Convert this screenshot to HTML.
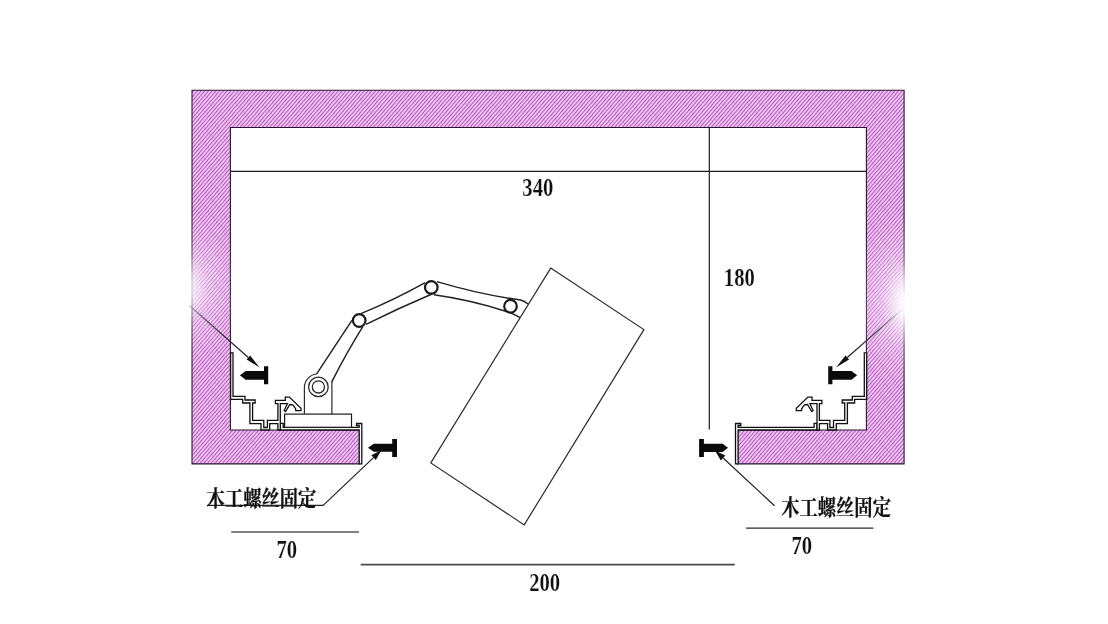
<!DOCTYPE html>
<html lang="zh-CN">
<head>
<meta charset="utf-8">
<title>木工螺丝固定 安装示意图</title>
<style>
html,body{margin:0;padding:0;background:#ffffff;}
body{width:1108px;height:624px;overflow:hidden;}
svg{display:block;}
.num{font-family:"Liberation Serif","Noto Serif CJK SC",serif;font-weight:bold;fill:#111;}
.cjk{font-family:"Liberation Serif","Noto Serif CJK SC",serif;font-weight:bold;fill:#111;}
</style>
</head>
<body>
<svg width="1108" height="624" viewBox="0 0 1108 624">
<defs>
<pattern id="hatch" patternUnits="userSpaceOnUse" x="0" y="0" width="12" height="2.8" patternTransform="rotate(-49)">
<rect x="0" y="0" width="12" height="2.8" fill="#fdc3fd"/>
<rect x="0" y="0.9" width="12" height="1.05" fill="#a260ad"/>
</pattern>
<filter id="soft" x="-2%" y="-2%" width="104%" height="104%"><feGaussianBlur stdDeviation="0.45"/></filter>
<radialGradient id="glow" cx="0.5" cy="0.5" r="0.5">
<stop offset="0" stop-color="#ffffff" stop-opacity="1"/>
<stop offset="0.2" stop-color="#ffffff" stop-opacity="0.95"/>
<stop offset="0.45" stop-color="#ffffff" stop-opacity="0.62"/>
<stop offset="0.7" stop-color="#ffffff" stop-opacity="0.27"/>
<stop offset="1" stop-color="#ffffff" stop-opacity="0"/>
</radialGradient>
</defs>
<rect x="0" y="0" width="1108" height="624" fill="#ffffff"/>

<clipPath id="wallclip"><path d="M192.0,90.2 H904.1 V463.9 H737.6 V430.0 H866.4 V127.5 H230.4 V430.0 H359.6 V463.9 H192.0 Z"/></clipPath>
<g clip-path="url(#wallclip)"><rect x="186.0" y="84.2" width="724.1" height="385.7" fill="url(#hatch)" filter="url(#soft)"/></g>
<path d="M192.0,90.2 H904.1 V463.9 H737.6 V430.0 H866.4 V127.5 H230.4 V430.0 H359.6 V463.9 H192.0 Z" fill="none" stroke="#2a1430" stroke-width="1.1" stroke-linejoin="miter"/>
<line x1="230.4" y1="171.3" x2="866.4" y2="171.3" stroke="#1c1c1c" stroke-width="1.2"/>
<line x1="709.3" y1="127.5" x2="709.3" y2="429.5" stroke="#1c1c1c" stroke-width="1.2"/>
<line x1="231.2" y1="532.0" x2="359" y2="532.0" stroke="#5a5a5a" stroke-width="1.7"/>
<line x1="360.7" y1="564.7" x2="734.8" y2="564.7" stroke="#4a4a4a" stroke-width="1.7"/>
<line x1="746.1" y1="528.1" x2="873.4" y2="528.1" stroke="#2a2a2a" stroke-width="1.3"/>
<polygon points="550.7,268.1 643.9,329.6 524.2,524.9 430.8,462.9" fill="#ffffff" stroke="#2a2a2a" stroke-width="1.2" stroke-linejoin="miter"/>
<polygon points="356.50,423.50 361.80,423.50 361.80,463.90 359.20,463.90 359.20,430.00 280.30,430.00 280.30,423.30 283.20,423.30 283.20,427.40 359.20,427.40 359.20,425.50 356.50,425.50" fill="#fbfbfb" stroke="#111" stroke-width="1.3" stroke-linejoin="miter"/>
<polygon points="230.60,352.80 233.00,352.80 233.00,396.30 245.00,396.30 245.00,400.00 255.10,400.00 255.10,403.00 252.60,403.00 252.60,420.30 263.80,420.30 263.80,427.50 267.40,427.50 267.40,420.30 277.90,420.30 277.90,403.70 275.40,403.70 275.40,400.40 285.30,400.40 285.30,397.10 289.40,397.10 301.00,408.30 301.00,410.70 295.70,410.70 295.70,408.90 292.90,404.90 289.80,404.50 285.60,411.60 284.20,410.60 287.40,403.70 280.30,403.70 280.30,430.00 277.90,430.00 277.90,423.60 269.70,423.60 269.70,430.00 261.00,430.00 261.00,423.60 249.90,423.60 249.90,403.00 242.70,403.00 242.70,399.40 230.60,399.40" fill="#fbfbfb" stroke="#111" stroke-width="1.3" stroke-linejoin="miter"/>
<polygon points="740.80,423.50 735.50,423.50 735.50,463.90 738.10,463.90 738.10,430.00 817.00,430.00 817.00,423.30 814.10,423.30 814.10,427.40 738.10,427.40 738.10,425.50 740.80,425.50" fill="#fbfbfb" stroke="#111" stroke-width="1.3" stroke-linejoin="miter"/>
<polygon points="866.70,352.80 864.30,352.80 864.30,396.30 852.30,396.30 852.30,400.00 842.20,400.00 842.20,403.00 844.70,403.00 844.70,420.30 833.50,420.30 833.50,427.50 829.90,427.50 829.90,420.30 819.40,420.30 819.40,403.70 821.90,403.70 821.90,400.40 812.00,400.40 812.00,397.10 807.90,397.10 796.30,408.30 796.30,410.70 801.60,410.70 801.60,408.90 804.40,404.90 807.50,404.50 811.70,411.60 813.10,410.60 809.90,403.70 817.00,403.70 817.00,430.00 819.40,430.00 819.40,423.60 827.60,423.60 827.60,430.00 836.30,430.00 836.30,423.60 847.40,423.60 847.40,403.00 854.60,403.00 854.60,399.40 866.70,399.40" fill="#fbfbfb" stroke="#111" stroke-width="1.3" stroke-linejoin="miter"/>
<rect x="284.6" y="414.1" width="66.9" height="13.2" fill="#fdfdfd" stroke="#1a1a1a" stroke-width="1.2"/>
<path d="M304.4,414 V387.2 A13.8,13.8 0 0 1 316.5,374.0 M331.9,414 V382.3" fill="none" stroke="#2a2a2a" stroke-width="1.2"/>
<circle cx="318.4" cy="386.9" r="9.8" fill="#fff" stroke="#2a2a2a" stroke-width="1.3"/>
<circle cx="318.4" cy="386.9" r="6.1" fill="#fff" stroke="#2a2a2a" stroke-width="1.3"/>
<path d="M316.5,374.2 Q333,349 351.9,320.3" fill="none" stroke="#222" stroke-width="1.45"/>
<path d="M331.5,382.3 Q347,352 362.8,326.7" fill="none" stroke="#222" stroke-width="1.45"/>
<path d="M360.9,313.6 Q394,300 425.2,282.6" fill="none" stroke="#222" stroke-width="1.45"/>
<path d="M366.0,324.3 Q399,308 432.0,294.0" fill="none" stroke="#222" stroke-width="1.45"/>
<path d="M437.0,281.6 Q478,294 520.5,300 Q524.5,301 528.0,304.0" fill="none" stroke="#222" stroke-width="1.45"/>
<path d="M434.0,294.8 Q471,300 506.4,311.5 Q514,314 520.2,317.6" fill="none" stroke="#222" stroke-width="1.45"/>
<circle cx="359.2" cy="320.5" r="6.3" fill="#fff" stroke="#1a1a1a" stroke-width="2.2"/>
<circle cx="431.3" cy="287.4" r="6.3" fill="#fff" stroke="#1a1a1a" stroke-width="2.2"/>
<circle cx="510.5" cy="306.2" r="6.3" fill="#fff" stroke="#1a1a1a" stroke-width="2.2"/>
<line x1="189.8" y1="305.9" x2="248.3" y2="357.5" stroke="#222" stroke-width="1.2"/>
<polygon points="259.6,367.4 246.6,359.5 250.1,355.5" fill="#111"/>
<line x1="906.0" y1="305.9" x2="847.3" y2="357.5" stroke="#222" stroke-width="1.2"/>
<polygon points="836.0,367.4 845.5,355.5 849.1,359.5" fill="#111"/>
<line x1="323.2" y1="505.4" x2="373.5" y2="457.6" stroke="#222" stroke-width="1.2"/>
<polygon points="381.5,450.0 375.8,460.0 371.3,455.2" fill="#111"/>
<line x1="774.5" y1="505.7" x2="723.1" y2="458.0" stroke="#222" stroke-width="1.2"/>
<polygon points="715.0,450.5 725.3,455.6 720.8,460.4" fill="#111"/>
<line x1="207" y1="505.4" x2="323.6" y2="505.4" stroke="#222" stroke-width="1.2"/>
<path d="M264.0,366.2 H268.2 V384.3 H264.0 V379.7 H245.6 L239.9,375.29999999999995 L245.6,370.9 H264.0 Z" fill="#0a0a0a"/>
<path d="M832.4,366.2 H828.2 V384.3 H832.4 V379.7 H851.5 L857.1,375.29999999999995 L851.5,370.9 H832.4 Z" fill="#0a0a0a"/>
<path d="M392.2,439.0 H397.0 V456.9 H392.2 V451.7 H373.8 L368.0,447.7 L373.8,443.7 H392.2 Z" fill="#0a0a0a"/>
<path d="M703.9,439.0 H699.1 V456.9 H703.9 V451.9 H722.6 L728.0,447.79999999999995 L722.6,443.7 H703.9 Z" fill="#0a0a0a"/>
<ellipse cx="190" cy="288" rx="56" ry="76" fill="url(#glow)" opacity="0.42"/>
<ellipse cx="189" cy="288" rx="20" ry="36" fill="url(#glow)" opacity="0.6"/>
<ellipse cx="905" cy="300" rx="62" ry="86" fill="url(#glow)" opacity="0.5"/>
<ellipse cx="908" cy="303" rx="26" ry="44" fill="url(#glow)"/>
<g style="filter:grayscale(1)"><text class="num" transform="translate(522.3,196.3) scale(0.82,1.0)" font-size="25.2" x="0" y="0" stroke="#ffffff" stroke-width="0.18" stroke-linejoin="miter">340</text></g>
<g style="filter:grayscale(1)"><text class="num" transform="translate(723.8,286.0) scale(0.82,1.0)" font-size="25.2" x="0" y="0" stroke="#ffffff" stroke-width="0.18" stroke-linejoin="miter">180</text></g>
<g style="filter:grayscale(1)"><text class="num" transform="translate(276.4,557.6) scale(0.82,1.0)" font-size="25.2" x="0" y="0" stroke="#ffffff" stroke-width="0.18" stroke-linejoin="miter">70</text></g>
<g style="filter:grayscale(1)"><text class="num" transform="translate(791.4,554.0) scale(0.82,1.0)" font-size="25.2" x="0" y="0" stroke="#ffffff" stroke-width="0.18" stroke-linejoin="miter">70</text></g>
<g style="filter:grayscale(1)"><text class="num" transform="translate(529.2,591.2) scale(0.82,1.0)" font-size="25.2" x="0" y="0" stroke="#ffffff" stroke-width="0.18" stroke-linejoin="miter">200</text></g>
<g style="filter:grayscale(1)"><text class="cjk" transform="translate(206.6,505.9) scale(1.0,1.17)" font-size="18.3" x="0" y="0" stroke="#111" stroke-width="0.2" stroke-linejoin="round">木工螺丝固定</text></g>
<g style="filter:grayscale(1)"><text class="cjk" transform="translate(781.2,515.3) scale(1.0,1.17)" font-size="18.3" x="0" y="0" stroke="#111" stroke-width="0.2" stroke-linejoin="round">木工螺丝固定</text></g>
</svg>
</body>
</html>
